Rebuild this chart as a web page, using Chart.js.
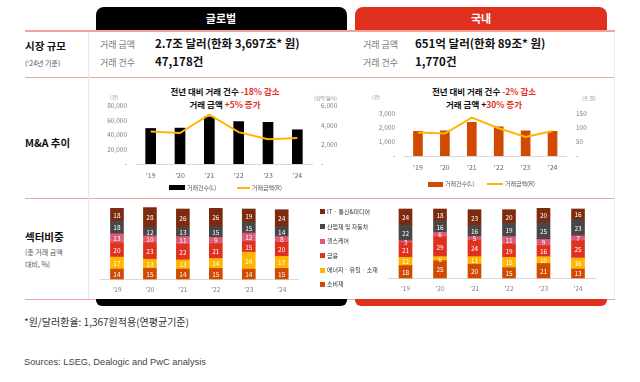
<!DOCTYPE html>
<html><head><meta charset="utf-8">
<script src="https://cdn.jsdelivr.net/npm/chart.js@4"></script>
<style>
body{margin:0;width:640px;height:382px;background:#fff;overflow:hidden;font-family:"Noto Sans CJK KR","Noto Sans",sans-serif;position:relative;color:#111}
.a{position:absolute}
.t{position:absolute;white-space:nowrap;transform:translateY(-50%);line-height:1.2}
.c{transform:translate(-50%,-50%)}
canvas{position:absolute}
.red{color:#e0301e}
.lbl{color:#777;font-size:9px}
.val{font-weight:700;font-size:11.5px;color:#111}
.hd{font-weight:700;font-size:10.5px;color:#111}
.sub{font-size:7px;color:#555}
.ttl{font-weight:700;font-size:8.5px;color:#111}
.unit{font-size:5px;color:#888}
.lg{font-size:6px;color:#555}
.slg{font-size:6px;color:#333}
</style></head><body>

<div class="a" style="left:96px;top:7px;width:251px;height:24px;background:#000;border-radius:8px 8px 0 0"></div>
<div class="t c" style="left:221px;top:19px;color:#fff;font-weight:700;font-size:11px">글로벌</div>
<div class="a" style="left:355px;top:7px;width:252px;height:24px;background:#e0301e;border-radius:8px 8px 0 0"></div>
<div class="t c" style="left:481px;top:19px;color:#fff;font-weight:700;font-size:11px">국내</div>

<div class="a" style="left:25px;top:30px;width:590px;height:2px;background:#f2a49a"></div>
<div class="a" style="left:25px;top:77px;width:590px;height:1px;background:#f2a49a"></div>
<div class="a" style="left:25px;top:198px;width:590px;height:1px;background:#f2a49a"></div>
<div class="a" style="left:25px;top:299px;width:590px;height:1px;background:#f2a49a"></div>
<div class="a" style="left:88px;top:32px;width:1px;height:267px;background:#e9e9e9"></div>
<div class="a" style="left:614px;top:32px;width:1px;height:267px;background:#eeeeee"></div>

<div class="a" style="left:96px;top:299px;width:251px;height:7px;background:#000;border-radius:0 0 6px 6px"></div>
<div class="a" style="left:355px;top:299px;width:252px;height:7px;background:#e0301e;border-radius:0 0 6px 6px"></div>

<div class="t hd" style="left:25px;top:46px">시장 규모</div>
<div class="t sub" style="left:25px;top:63px">('24년 기준)</div>
<div class="t hd" style="left:25px;top:143px">M&amp;A 추이</div>
<div class="t hd" style="left:25px;top:237px">섹터비중</div>
<div class="t sub" style="left:25px;top:252px">(총 거래 금액</div>
<div class="t sub" style="left:25px;top:264px">대비, %)</div>

<div class="t lbl" style="left:100px;top:45px">거래 금액</div>
<div class="t val" style="left:155px;top:44px">2.7조 달러(한화 3,697조* 원)</div>
<div class="t lbl" style="left:100px;top:63px">거래 건수</div>
<div class="t val" style="left:155px;top:62px">47,178건</div>
<div class="t lbl" style="left:363px;top:45px">거래 금액</div>
<div class="t val" style="left:415px;top:44px">651억 달러(한화 89조* 원)</div>
<div class="t lbl" style="left:363px;top:63px">거래 건수</div>
<div class="t val" style="left:415px;top:62px">1,770건</div>

<div class="t c ttl" style="left:225px;top:91px">전년 대비 거래 건수 <span class="red">-18% 감소</span></div>
<div class="t c ttl" style="left:225px;top:104px">거래 금액 <span class="red">+5% 증가</span></div>
<div class="t c ttl" style="left:484px;top:91px">전년 대비 거래 건수 <span class="red">-2% 감소</span></div>
<div class="t c ttl" style="left:484px;top:104px">거래 금액 +<span class="red">30% 증가</span></div>

<div class="t unit" style="left:110px;top:97px">(건)</div>
<div class="t unit" style="left:314px;top:98px">(십억 달러)</div>
<div class="t unit" style="left:372px;top:97px">(건)</div>
<div class="t unit" style="left:582px;top:98px">(조 원)</div>

<canvas id="g1" width="251" height="84" style="left:96px;top:100px"></canvas>
<canvas id="d1" width="252" height="68" style="left:355px;top:108px"></canvas>
<canvas id="g2" width="210" height="96" style="left:96px;top:203px"></canvas>
<canvas id="d2" width="252" height="95" style="left:355px;top:203px"></canvas>

<div class="a" style="left:169px;top:185px;width:16px;height:5px;background:#000"></div>
<div class="t lg" style="left:187px;top:187.5px">거래건수(L)</div>
<div class="a" style="left:237px;top:186.5px;width:13px;height:2px;background:#ffb600"></div>
<div class="t lg" style="left:252px;top:187.5px">거래금액(R)</div>

<div class="a" style="left:428px;top:181.5px;width:15px;height:5px;background:#d04a02"></div>
<div class="t lg" style="left:445px;top:184px">거래건수(L)</div>
<div class="a" style="left:487px;top:183px;width:16px;height:2px;background:#ffb600"></div>
<div class="t lg" style="left:505px;top:184px">거래금액(R)</div>

<div id="slg"></div>

<div class="t" style="left:24px;top:322px;font-size:10px;color:#333">*원/달러환율: 1,367원적용(연평균기준)</div>
<div class="t" style="left:24px;top:363px;font-size:9.3px;color:#444;font-family:'Liberation Sans',Arial,sans-serif">Sources: LSEG, Dealogic and PwC analysis</div>

<script>
const years = ["'19","'20","'21","'22","'23","'24"];
const globalDeals = [49000, 49500, 65000, 58500, 57500, 47178];
const globalValue = [3350, 3200, 5100, 3300, 2570, 2700];
const domesticDeals = [1760, 1800, 2400, 2080, 1806, 1770];
const domesticValue = [84, 80, 137, 99, 68, 89];

const sectorNames = ['IT · 통신&미디어','산업재 및 자동차','헬스케어','금융','에너지 · 유틸 · 소재','소비재'];
const sectorColors = ['#7d2a0e','#474747','#dc5a74','#e0301e','#ffb600','#d04a02'];

const globalIT = [18,28,26,26,19,24];
const globalInd = [18,12,13,15,15,14];
const globalHealth = [13,10,11,9,12,8];
const globalFin = [20,23,22,21,15,20];
const globalEnergy = [17,13,13,14,24,17];
const globalCons = [14,15,14,15,14,15];

const domIT = [24,18,23,20,20,16];
const domInd = [22,16,16,19,25,23];
const domHealth = [3,6,5,11,9,7];
const domFin = [21,29,24,19,16,25];
const domEnergy = [12,6,11,15,10,16];
const domCons = [18,25,20,15,21,13];

const FONT = '"Noto Sans CJK KR","Noto Sans",sans-serif';
Chart.defaults.font.family = FONT;
Chart.defaults.animation = false;

const fmt = v => v === 0 ? '-' : v.toLocaleString('en-US');
const noPadY = w => s => { s.width = w; s.paddingTop = 0; s.paddingBottom = 0; };
const noPadX = s => { s.height = 20; s.paddingLeft = 0; s.paddingRight = 0; };
const noGrid = {display:false, drawTicks:false};

function combo(id, bars, line, barColor, opts) {
  return new Chart(document.getElementById(id), {
    type:'bar',
    data: {
      labels: years,
      datasets: [
        {type:'line', data: line, yAxisID:'y1', borderColor:'#ffb600', borderWidth:2, pointRadius:0, tension:0, order:1},
        {type:'bar', data: bars, yAxisID:'y', backgroundColor: barColor, barThickness: opts.bw, order:2}
      ]
    },
    options: {
      responsive:false, maintainAspectRatio:false,
      layout:{padding:{left:0,right:0,top:opts.padTop,bottom:0}},
      plugins:{legend:{display:false}, tooltip:{enabled:false}},
      scales:{
        x:{grid:noGrid, border:{display:true,color:'#d9d9d9'},
           ticks:{color:'#666', font:{size:7}, padding:opts.xpad, maxRotation:0},
           afterFit:noPadX},
        y:{position:'left', min:0, max:opts.lmax, grid:noGrid, border:{display:false},
           ticks:{stepSize:opts.lstep, callback:fmt, color:'#808080', font:{size:6.5}, padding:opts.lpad},
           afterFit:noPadY(opts.lw)},
        y1:{position:'right', min:0, max:opts.rmax, grid:noGrid, border:{display:false},
           ticks:{stepSize:opts.rstep, callback:fmt, color:'#808080', font:{size:6.5}, padding:opts.rpad},
           afterFit:noPadY(opts.rw)}
      }
    }
  });
}

combo('g1', globalDeals, globalValue, '#000', {bw:10, padTop:6, xpad:7, lmax:80000, lstep:20000, lpad:9, lw:40, rmax:6000, rstep:2000, rpad:9, rw:35});
combo('d1', domesticDeals, domesticValue, '#d04a02', {bw:9, padTop:6, xpad:7.5, lmax:3000, lstep:1000, lpad:9.5, lw:49.5, rmax:150, rstep:50, rpad:10, rw:41});

const segLabels = {
  id:'segLabels',
  afterDatasetsDraw(chart){
    const ctx = chart.ctx;
    ctx.save();
    ctx.fillStyle = '#fff';
    ctx.font = '6.5px ' + FONT;
    ctx.textAlign = 'center';
    ctx.textBaseline = 'middle';
    chart.data.datasets.forEach((ds,i)=>{
      chart.getDatasetMeta(i).data.forEach((bar,j)=>{
        const p = bar.getProps(['x','y','base'], true);
        ctx.fillText(String(ds.data[j]), p.x, (p.y+p.base)/2 + 0.5);
      });
    });
    ctx.restore();
  }
};

function stacked(id, series, pad, bw) {
  const ds = series.map((d,i)=>({data:d, backgroundColor:sectorColors[i], barThickness:bw, clip:false})).reverse();
  return new Chart(document.getElementById(id), {
    type:'bar',
    data:{labels:years, datasets:ds},
    options:{
      responsive:false, maintainAspectRatio:false,
      layout:{padding:pad},
      plugins:{legend:{display:false}, tooltip:{enabled:false}},
      scales:{
        x:{stacked:true, grid:noGrid, border:{display:true,color:'#d9d9d9'},
           ticks:{color:'#808080', font:{size:6.5}, padding:7, maxRotation:0}, afterFit:noPadX},
        y:{stacked:true, display:false, min:0, max:100}
      }
    },
    plugins:[segLabels]
  });
}

stacked('g2', [globalIT,globalInd,globalHealth,globalFin,globalEnergy,globalCons], {left:4.5,right:7.8,top:5.3,bottom:0}, 13);
stacked('d2', [domIT,domInd,domHealth,domFin,domEnergy,domCons], {left:33.25,right:11.75,top:6,bottom:0}, 13);

const slgY = [211.7,226.7,241,255.7,270,284.3];
const slg = document.getElementById('slg');
sectorNames.forEach((n,i)=>{
  const sq = document.createElement('div');
  sq.className='a';
  sq.style.cssText = `left:320px;top:${slgY[i]-2.5}px;width:5px;height:5px;background:${sectorColors[i]}`;
  slg.appendChild(sq);
  const tx = document.createElement('div');
  tx.className='t slg';
  tx.style.cssText = `left:327px;top:${slgY[i]}px`;
  tx.textContent = n;
  slg.appendChild(tx);
});
</script>
</body></html>
